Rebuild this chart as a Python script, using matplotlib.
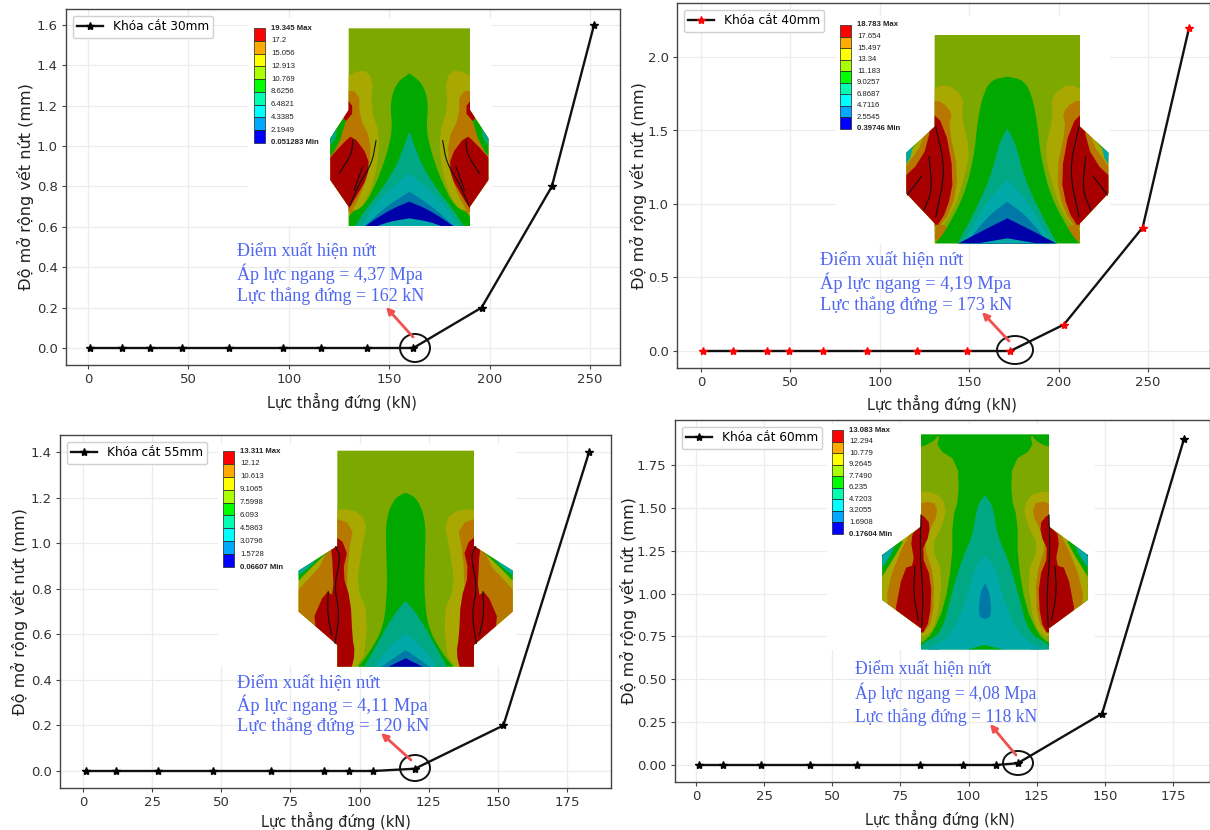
import matplotlib
matplotlib.use("Agg")
import matplotlib.pyplot as plt
import numpy as np
from matplotlib.patches import Ellipse, Polygon, Rectangle

W, H = 1210, 830

# Du lieu doc tu hinh
x30 = [1, 17, 31, 47, 70, 97, 116, 139, 162, 196, 231, 252]
y30 = [0, 0, 0, 0, 0, 0, 0, 0, 0, 0.2, 0.8, 1.6]
x40 = [1, 18, 37, 49, 68, 93, 121, 149, 173, 203, 247, 273]
y40 = [0, 0, 0, 0, 0, 0, 0, 0, 0, 0.18, 0.84, 2.2]
x55 = [1, 12, 27, 47, 68, 87, 96, 105, 120, 152, 183]
y55 = [0, 0, 0, 0, 0, 0, 0, 0, 0.01, 0.2, 1.4]
x60 = [1, 10, 24, 42, 59, 82, 98, 110, 118, 149, 179]
y60 = [0, 0, 0, 0, 0, 0, 0, 0, 0.01, 0.3, 1.9]

labels = ["Khóa cắt 30mm", "Khóa cắt 40mm", "Khóa cắt 55mm", "Khóa cắt 60mm"]
scale30 = ["19.345 Max", "17.2", "15.056", "12.913", "10.769", "8.6256", "6.4821", "4.3385", "2.1949", "0.051283 Min"]
scale40 = ["18.783 Max", "17.654", "15.497", "13.34", "11.183", "9.0257", "6.8687", "4.7116", "2.5545", "0.39746 Min"]
scale55 = ["13.311 Max", "12.12", "10.613", "9.1065", "7.5998", "6.093", "4.5863", "3.0796", "1.5728", "0.06607 Min"]
scale60 = ["13.083 Max", "12.294", "10.779", "9.2645", "7.7490", "6.235", "4.7203", "3.2055", "1.6908", "0.17604 Min"]
notes30 = ["Điểm xuất hiện nứt", "Áp lực ngang = 4,37 Mpa", "Lực thẳng đứng = 162 kN"]
notes40 = ["Điểm xuất hiện nứt", "Áp lực ngang = 4,19 Mpa", "Lực thẳng đứng = 173 kN"]
notes55 = ["Điểm xuất hiện nứt", "Áp lực ngang = 4,11 Mpa", "Lực thẳng đứng = 120 kN"]
notes60 = ["Điểm xuất hiện nứt", "Áp lực ngang = 4,08 Mpa", "Lực thẳng đứng = 118 kN"]

ramp = ["#0000ff", "#00a8ff", "#00ffff", "#00ffb0", "#00ff00", "#aaff00", "#ffff00", "#ffaa00", "#ff0000"]
OLIVE, GREEN, TEAL, CYAN = "#7da800", "#00a800", "#00a884", "#00a8a8"
BLUE, NAVY, YEL, ORA, RED = "#0078a8", "#0000a8", "#a8a800", "#b87800", "#a80000"

# Hinh FEM: (mau nen, nua vien ngoai, cac lop doi xung, cac lop giua, cac vet nut)
fem30 = dict(
    org=(240, 10), cx=508, base=OLIVE,
    out=[(182, 55), (182, 300), (237, 385), (237, 510), (182, 590), (182, 648)],
    side=[(YEL, [(210, 215), (142, 175), (108, 205), (116, 290), (88, 380), (98, 480), (122, 560), (182, 640), (270, 620), (270, 330)]),
          (ORA, [(210, 240), (150, 245), (150, 320), (115, 390), (120, 480), (148, 560), (182, 620), (270, 580), (270, 400), (195, 330)]),
          (RED, [(200, 250), (162, 300), (200, 345)]),
          (RED, [(170, 375), (122, 440), (124, 500), (165, 570), (190, 610), (270, 530), (270, 480), (195, 395)]),
          (GREEN, [(182, 305), (270, 380), (270, 470), (215, 415)]),
          (TEAL, [(215, 345), (270, 385), (270, 430), (222, 395)]),
          (ORA, [(158, 598), (180, 605), (174, 640), (150, 628)])],
    mid=[(GREEN, [(0, 190), (40, 220), (58, 280), (50, 360), (70, 440), (95, 510), (135, 590), (182, 610), (182, 650)]),
         (TEAL, [(0, 365), (20, 420), (40, 470), (85, 540), (125, 590), (165, 650)]),
         (CYAN, [(0, 490), (50, 530), (110, 590), (145, 650)]),
         (BLUE, [(0, 545), (70, 590), (135, 650)]),
         (NAVY, [(0, 575), (60, 600), (135, 650)]),
         (CYAN, [(0, 625), (60, 635), (100, 650)])],
    cracks=[[(100, 392), (112, 460), (150, 520), (178, 585)], [(170, 390), (172, 430), (210, 490)], [(140, 470), (165, 540)]])
fem40 = dict(
    org=(830, 10), cx=532, base=OLIVE,
    out=[(218, 75), (218, 350), (303, 428), (303, 550), (218, 640), (218, 700)],
    side=[(YEL, [(240, 250), (185, 218), (130, 260), (138, 320), (112, 420), (128, 500), (160, 600), (218, 680), (340, 660), (340, 480), (235, 340)]),
          (ORA, [(240, 270), (195, 275), (165, 310), (176, 350), (146, 490), (166, 600), (218, 670), (340, 580), (340, 520), (240, 380)]),
          (RED, [(240, 295), (188, 345), (160, 500), (180, 600), (218, 660), (340, 570), (340, 530), (255, 450), (228, 350)]),
          (GREEN, [(225, 345), (340, 420), (340, 480)]),
          (CYAN, [(280, 395), (340, 428), (340, 490), (295, 460)]),
          (ORA, [(178, 648), (212, 642), (222, 695), (188, 685)])],
    mid=[(GREEN, [(0, 200), (50, 210), (75, 260), (90, 340), (100, 440), (130, 560), (190, 670), (218, 702)]),
         (TEAL, [(0, 355), (25, 400), (50, 500), (95, 600), (150, 702)]),
         (CYAN, [(0, 510), (50, 560), (100, 640), (130, 702)]),
         (BLUE, [(0, 575), (60, 620), (125, 702)]),
         (NAVY, [(0, 625), (70, 660), (150, 702)]),
         (CYAN, [(0, 685), (100, 702)])],
    cracks=[[(215, 350), (185, 480), (215, 620)], [(235, 440), (225, 540), (250, 600)], [(258, 500), (300, 555)]])
fem55 = dict(
    org=(210, 440), cx=587, base=OLIVE,
    out=[(205, 32), (205, 318), (321, 392), (321, 515), (205, 615), (205, 680)],
    side=[(YEL, [(240, 215), (165, 205), (115, 240), (132, 330), (148, 440), (112, 520), (130, 690), (240, 700), (360, 530), (360, 470), (225, 315)]),
          (ORA, [(240, 225), (155, 255), (172, 340), (178, 470), (172, 540), (160, 690), (240, 700), (360, 540), (360, 490), (225, 345)]),
          (RED, [(240, 265), (172, 320), (190, 400), (165, 480), (160, 590), (152, 640), (165, 695), (240, 695), (225, 600), (285, 555), (240, 450), (215, 470), (222, 320)]),
          (GREEN, [(205, 315), (360, 395), (360, 460), (240, 340)]),
          (CYAN, [(262, 345), (360, 392), (360, 432), (280, 375)]),
          (NAVY, [(300, 372), (360, 392), (360, 420)]),
          (RED, [(300, 540), (360, 510), (360, 530)])],
    mid=[(GREEN, [(0, 158), (35, 175), (60, 240), (58, 350), (55, 440), (65, 560), (110, 640), (145, 682)]),
         (TEAL, [(0, 482), (40, 530), (90, 620), (125, 682)]),
         (CYAN, [(0, 580), (50, 620), (95, 682)]),
         (BLUE, [(0, 630), (75, 682)]),
         (NAVY, [(0, 655), (55, 682)])],
    cracks=[[(210, 320), (195, 350), (215, 440), (198, 520), (212, 610)], [(232, 455), (235, 520), (222, 585)]])
fem60 = dict(
    org=(820, 420), cx=495, base=GREEN,
    out=[(192, 43), (192, 320), (308, 405), (308, 540), (192, 625), (192, 688)],
    side=[(OLIVE, [(135, 40), (145, 85), (82, 125), (78, 230), (98, 300), (98, 420), (122, 560), (158, 640), (192, 672), (340, 700), (340, 200), (225, 90), (160, 70)]),
          (YEL, [(225, 218), (150, 215), (116, 255), (125, 310), (162, 380), (126, 460), (146, 620), (192, 660), (340, 570), (340, 490), (240, 340)]),
          (ORA, [(225, 260), (155, 240), (140, 280), (172, 340), (182, 380), (152, 470), (156, 600), (192, 650), (290, 585), (295, 500), (235, 350), (195, 310)]),
          (RED, [(225, 270), (170, 295), (165, 340), (192, 400), (160, 480), (165, 600), (192, 650), (275, 605), (245, 445), (210, 435), (225, 350), (195, 320)]),
          (GREEN, [(235, 345), (340, 405), (340, 520), (280, 425)]),
          (CYAN, [(265, 365), (340, 405), (340, 480), (290, 420)]),
          (NAVY, [(295, 392), (340, 405), (340, 445)]),
          (NAVY, [(135, 680), (160, 676), (175, 690), (140, 695)])],
    mid=[(TEAL, [(0, 225), (25, 260), (35, 340), (70, 420), (100, 520), (130, 640), (192, 672), (192, 690)]),
         (CYAN, [(0, 405), (30, 440), (55, 540), (100, 640), (150, 678), (192, 690)]),
         (BLUE, [(0, 490), (15, 520), (20, 590), (0, 597)]),
         (GREEN, [(0, 675), (60, 690)])],
    cracks=[[(192, 285), (195, 400), (185, 530), (190, 620)], [(210, 440), (215, 520), (200, 600)]])

fig = plt.figure(figsize=(W / 100, H / 100), dpi=100)


def panel(box, x, y, col, label, xticks, yticks, x0, xs, y0, ys, yfmt, ylab_x, xlab_x, xlab_y):
    # x0,xs,y0,ys : vi tri pixel cua moc dau va cuoi truc
    l, t, r, b = box
    ax = fig.add_axes([l / W, 1 - b / H, (r - l) / W, (b - t) / H])
    for s in ax.spines.values():
        s.set_color("#444444")
        s.set_linewidth(1.0)
    kx = (xs - x0) / (xticks[-1] - xticks[0])
    ky = (y0 - ys) / (yticks[-1] - yticks[0])
    ax.set_xlim(xticks[0] + (l - x0) / kx, xticks[0] + (r - x0) / kx)
    ax.set_ylim(yticks[0] + (y0 - b) / ky, yticks[0] + (y0 - t) / ky)
    ax.plot(x, y, "-", color="#111111", lw=1.7, marker="*", ms=6, mfc=col, mec=col, label=label, zorder=3)
    ax.set_xticks(xticks)
    ax.set_yticks(yticks)
    ax.set_yticklabels([yfmt % v for v in yticks])
    ax.tick_params(labelsize=9.5, length=3, pad=3, color="#444444", labelcolor="#333333")
    ax.grid(True, color="#ececec", lw=0.9)
    ax.set_axisbelow(True)
    ax.legend(loc="upper left", fontsize=8.7, handlelength=2.1, borderaxespad=0.55, framealpha=1, edgecolor="#d0d0d0")
    fig.text(xlab_x / W, 1 - xlab_y / H, "Lực thẳng đứng (kN)", ha="center", va="center", fontsize=10.5, color="#222222")
    fig.text(ylab_x / W, 1 - (t + b) / 2 / H, "Độ mở rộng vết nứt (mm)", rotation=90, ha="center", va="center", fontsize=11.6, color="#222222")
    return ax


def colorbar(ov, x, top, bot, values, fs=5.6):
    n = len(ramp)
    h = (bot - top) / n
    for i, c in enumerate(ramp[::-1]):
        ov.add_patch(Rectangle((x, top + i * h), 11, h, fc=c, ec="#222222", lw=0.5, zorder=2))
    for i, v in enumerate(values):
        bold = i == 0 or i == len(values) - 1
        ov.text(x + 17, top + i * h, v, fontsize=fs, va="center", color="#222222",
                fontweight="bold" if bold else "normal", family="Liberation Sans", zorder=2)


def chaikin(pts, n=2, closed=True):
    # lam tron da giac, duong ho giu nguyen hai dau mut
    p = np.array(pts, dtype=float)
    for _ in range(n):
        q = np.roll(p, -1, axis=0) if closed else p[1:]
        a = p if closed else p[:-1]
        s = np.column_stack([0.75 * a + 0.25 * q, 0.25 * a + 0.75 * q]).reshape(-1, 2)
        p = s if closed else np.vstack([p[0], s, p[-1]])
    return p


def fem(ov, f):
    ox, oy = f["org"]
    cx = f["cx"]

    def to_px(pts, sgn=1):
        p = np.array(pts, dtype=float)
        return np.column_stack([ox + (cx + sgn * p[:, 0]) / 3, oy + p[:, 1] / 3])

    outline = np.vstack([to_px(f["out"]), to_px(f["out"], -1)[::-1]])
    shape = Polygon(outline, fc=f["base"], ec="none", zorder=3)
    ov.add_patch(shape)

    def fill(pts, c, z):
        pg = Polygon(pts, fc=c, ec="none", zorder=z)
        ov.add_patch(pg)
        pg.set_clip_path(shape)

    for c, pts in f["side"]:
        for sgn in (-1, 1):
            fill(chaikin(to_px(pts, sgn), 1), c, 4)
    for c, pts in f["mid"]:
        # nua phai, doi xung qua truc giua
        curve = chaikin(to_px(pts), 2, closed=False)
        mirror = curve.copy()
        mirror[:, 0] = 2 * curve[0, 0] - mirror[:, 0]
        fill(np.vstack([mirror[::-1], curve]), c, 5)
    for crack in f["cracks"]:
        for sgn in (-1, 1):
            p = chaikin(to_px(crack, sgn), 2, closed=False)
            ov.plot(p[:, 0], p[:, 1], color="#111111", lw=0.8, zorder=6)


def notes(ov, x, y, lines, dy, fs):
    for i, s in enumerate(lines):
        ov.text(x, y + i * dy, s, fontsize=fs, color="#4f66f0", va="center", family="Liberation Serif", zorder=10)


def mark(ov, cx, cy, rx, ry, ax0, ay0, ax1, ay1):
    ov.add_patch(Ellipse((cx, cy), 2 * rx, 2 * ry, fc="none", ec="#111111", lw=1.4, zorder=11))
    ov.annotate("", xy=(ax1, ay1), xytext=(ax0, ay0),
                arrowprops=dict(arrowstyle="-|>", color="#f05050", lw=2, mutation_scale=10, shrinkA=0, shrinkB=0), zorder=11)


panel((66, 9, 620, 365), x30, y30, "k", labels[0], [0, 50, 100, 150, 200, 250], [0, .2, .4, .6, .8, 1.0, 1.2, 1.4, 1.6],
      88, 590, 348, 25, "%.1f", 25, 342, 402)
panel((677, 3, 1210, 368), x40, y40, "r", labels[1], [0, 50, 100, 150, 200, 250], [0, .5, 1.0, 1.5, 2.0],
      701, 1148, 351, 57, "%.1f", 638, 942, 404)
panel((60, 435, 611, 788), x55, y55, "k", labels[2], [0, 25, 50, 75, 100, 125, 150, 175],
      [0, .2, .4, .6, .8, 1.0, 1.2, 1.4], 83, 567, 771, 452, "%.1f", 19, 336, 821)
panel((675, 420, 1210, 782), x60, y60, "k", labels[3], [0, 25, 50, 75, 100, 125, 150, 175],
      [0, .25, .5, .75, 1.0, 1.25, 1.5, 1.75], 696, 1173, 765, 465, "%.2f", 628, 940, 819)

# lop phu toa do pixel cho anh ket qua FEM va ghi chu
ov = fig.add_axes([0, 0, 1, 1], facecolor="none")
ov.set_xlim(0, W)
ov.set_ylim(H, 0)
ov.axis("off")
for box in [(248, 18, 492, 226), (836, 16, 1110, 244), (218, 444, 516, 667), (827, 424, 1095, 650)]:
    ov.add_patch(Rectangle((box[0], box[1]), box[2] - box[0], box[3] - box[1], fc="white", ec="none", zorder=1))
colorbar(ov, 254, 28, 143, scale30)
colorbar(ov, 840, 25, 129, scale40)
colorbar(ov, 223, 451, 567, scale55)
colorbar(ov, 832, 430, 534, scale60)
fem(ov, fem30)
fem(ov, fem40)
fem(ov, fem55)
fem(ov, fem60)
notes(ov, 237, 251, notes30, 22.5, 13)
notes(ov, 820, 260, notes40, 22.5, 13.3)
notes(ov, 237, 683, notes55, 21.5, 13.3)
notes(ov, 855, 669, notes60, 24, 12.7)
mark(ov, 415, 348, 15, 14, 413, 337, 386, 307)
mark(ov, 1015, 350, 18, 14, 1009, 341, 982, 312)
mark(ov, 415, 768, 15, 13, 411, 760, 381, 733)
mark(ov, 1018, 763, 15, 12, 1016, 755, 990, 724)

fig.savefig("out.png", dpi=100)
